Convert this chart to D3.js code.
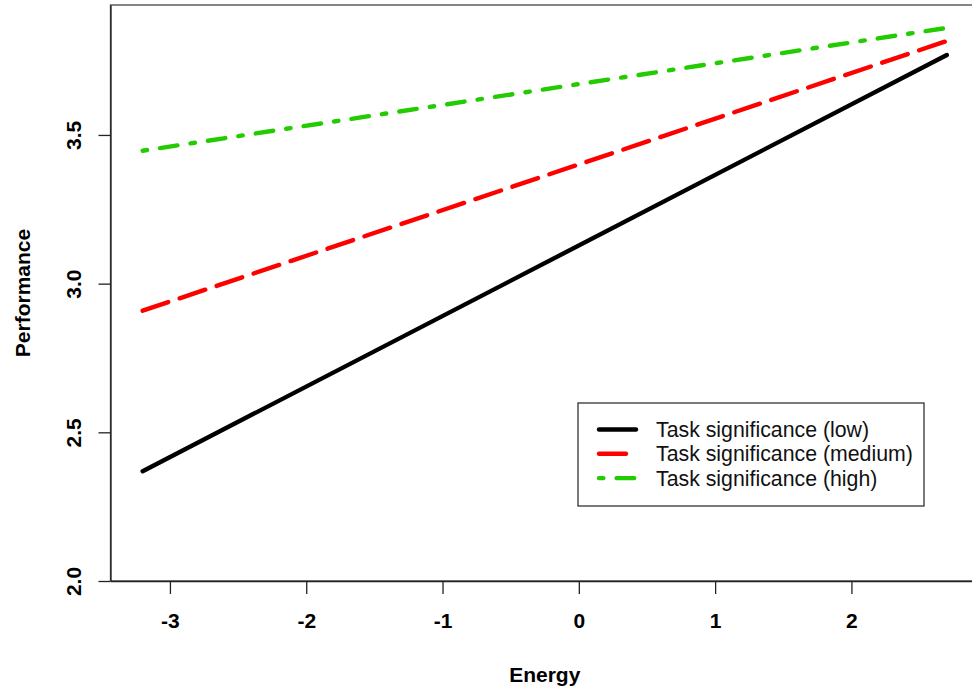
<!DOCTYPE html>
<html>
<head>
<meta charset="utf-8">
<script src="https://cdn.jsdelivr.net/npm/d3@7.9.0/dist/d3.min.js"></script>
<style>
  body { margin: 0; background: #fff; }
  svg { display: block; font-family: "Liberation Sans", Arial, sans-serif; }
</style>
</head>
<body>
<svg width="972" height="692"></svg>
<script>
// energy values at the two ends of each fitted line
const energy = [-3.2, 2.7];
const perfLow = [2.369, 3.769];
const perfMedium = [2.909, 3.816];
const perfHigh = [3.447, 3.86];

const xTicks = [-3, -2, -1, 0, 1, 2];
const yTicks = [2.0, 2.5, 3.0, 3.5];
const yLim = [2.0, 3.937];

const seriesNames = ['Task significance (low)', 'Task significance (medium)', 'Task significance (high)'];
const seriesColors = ['#000000', '#ff0000', '#22cc00'];

const series = [perfLow, perfMedium, perfHigh].map((vals, i) => ({
  name: seriesNames[i],
  color: seriesColors[i],
  points: energy.map((e, j) => ({ x: e, y: vals[j] }))
}));

// dash patterns like R's lty 1 / 5 / 4
const dashes = [null, '27 12', '4.4 13.2 17.6 13.2'];

const svg = d3.select('svg');
const plotL = 110.5, plotR = 979, plotT = 5, plotB = 581;

// R adds 4% on each side of the x range
const pad = (energy[1] - energy[0]) * 0.04;
const x = d3.scaleLinear().domain([energy[0] - pad, energy[1] + pad]).range([plotL, plotR]);
const y = d3.scaleLinear().domain(yLim).range([plotB, plotT]);

// plot box
svg.append('rect')
  .attr('x', plotL).attr('y', plotT)
  .attr('width', plotR - plotL).attr('height', plotB - plotT)
  .attr('fill', 'none').attr('stroke', '#444').attr('stroke-width', 1.3);

// x axis
const xAxis = svg.append('g')
  .attr('transform', `translate(0,${plotB})`)
  .call(d3.axisBottom(x).tickValues(xTicks).tickSize(13).tickSizeOuter(0).tickFormat(d3.format('d')));
xAxis.select('.domain').attr('stroke', '#222').attr('stroke-width', 1.3);
xAxis.selectAll('.tick line').attr('stroke', '#222').attr('stroke-width', 1.3);
xAxis.selectAll('.tick text')
  .attr('y', 47).attr('dy', 0)
  .attr('font-size', 21).attr('font-weight', 'bold')
  .attr('fill', '#000')
  .attr('font-family', '"Liberation Sans", Arial, sans-serif')
  .text(d => d < 0 ? '-' + Math.abs(d) : d);

// y axis
const yAxis = svg.append('g')
  .attr('transform', `translate(${plotL},0)`)
  .call(d3.axisLeft(y).tickValues(yTicks).tickSize(12).tickSizeOuter(0).tickFormat(d3.format('.1f')));
yAxis.select('.domain').attr('stroke', '#222').attr('stroke-width', 1.3);
yAxis.selectAll('.tick line').attr('stroke', '#222').attr('stroke-width', 1.3);
yAxis.selectAll('.tick text')
  .attr('transform', 'rotate(-90)')
  .attr('x', 0).attr('y', -30).attr('dy', 0)
  .attr('text-anchor', 'middle')
  .attr('font-size', 21).attr('font-weight', 'bold')
  .attr('fill', '#000')
  .attr('font-family', '"Liberation Sans", Arial, sans-serif');

// axis titles
svg.append('text')
  .attr('x', (plotL + plotR) / 2).attr('y', 682)
  .attr('text-anchor', 'middle')
  .attr('font-size', 21).attr('font-weight', 'bold')
  .text('Energy');

svg.append('text')
  .attr('transform', `translate(30,${(plotT + plotB) / 2}) rotate(-90)`)
  .attr('text-anchor', 'middle')
  .attr('font-size', 21).attr('font-weight', 'bold')
  .text('Performance');

// fitted lines
const line = d3.line().x(d => x(d.x)).y(d => y(d.y));
svg.append('clipPath').attr('id', 'plotclip')
  .append('rect').attr('x', plotL).attr('y', plotT).attr('width', plotR - plotL).attr('height', plotB - plotT);

svg.append('g').attr('clip-path', 'url(#plotclip)')
  .selectAll('path')
  .data(series)
  .join('path')
  .attr('d', d => line(d.points))
  .attr('fill', 'none')
  .attr('stroke', d => d.color)
  .attr('stroke-width', 4.4)
  .attr('stroke-linecap', 'round')
  .attr('stroke-dasharray', (d, i) => dashes[i]);

// legend
const legend = svg.append('g').attr('transform', 'translate(578,403)');
legend.append('rect')
  .attr('width', 346).attr('height', 103)
  .attr('fill', '#fff').attr('stroke', '#222').attr('stroke-width', 1.2);

series.forEach((s, i) => {
  const baseY = 34 + i * 24.3;
  legend.append('line')
    .attr('x1', 21).attr('x2', 58)
    .attr('y1', baseY - 7.5).attr('y2', baseY - 7.5)
    .attr('stroke', s.color).attr('stroke-width', 4.4)
    .attr('stroke-linecap', 'round')
    .attr('stroke-dasharray', dashes[i]);
  legend.append('text')
    .attr('x', 78).attr('y', baseY)
    .attr('font-size', 21.3).attr('fill', '#111')
    .text(s.name);
});
</script>
</body>
</html>
